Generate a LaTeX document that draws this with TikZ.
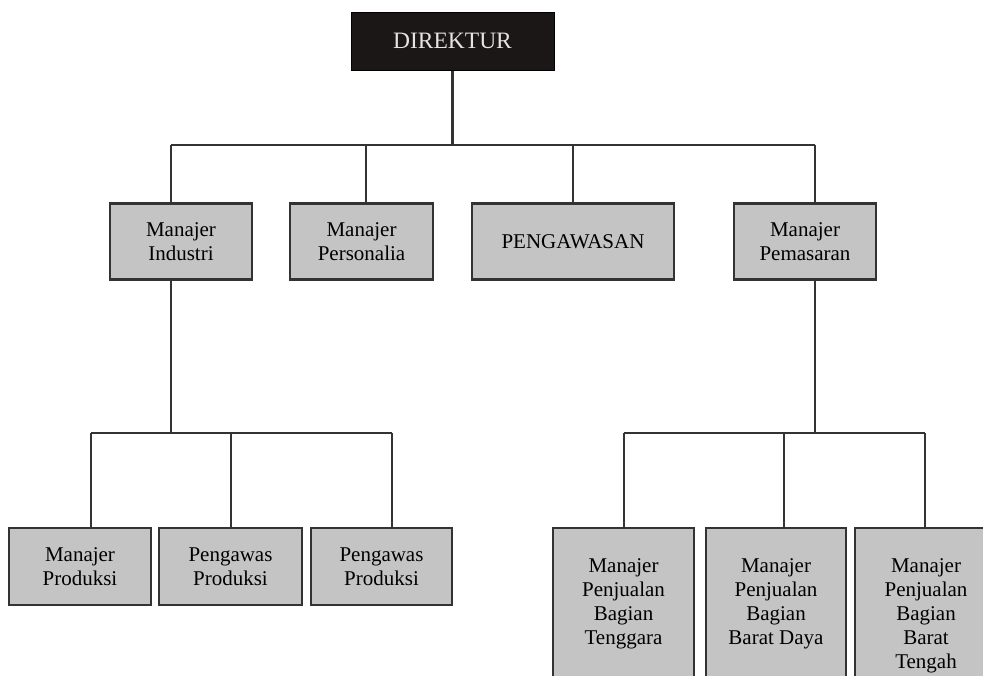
\documentclass[tikz,border=0pt]{standalone}
\usepackage{fontspec}
\setmainfont{Liberation Serif}
\begin{document}
\begin{tikzpicture}[x=1pt,y=-1pt,
  wire/.style={line width=2.2pt,draw=black!80},
  unit/.style={rectangle,draw=black!80,line width=2.4pt,fill=boxgray,
    inner sep=0pt,align=center,font=\fontsize{21}{24.5}\selectfont},
  head/.style={rectangle,draw=black,line width=1pt,fill=headfill,
    inner sep=0pt,text=headtext,font=\fontsize{23.5}{26}\selectfont},
  caption/.style={inner sep=0pt,align=center,anchor=north,
    font=\fontsize{21}{24}\selectfont}]
\definecolor{boxgray}{HTML}{C4C4C4}
\definecolor{headfill}{HTML}{1C1717}
\definecolor{headtext}{HTML}{E4E4E4}
\useasboundingbox (0,0) rectangle (983,675);
\clip (0,0) rectangle (983,675);

% junction points of the connector rails
\coordinate (r0) at (452.5,145);
\coordinate (r1) at (171,145);
\coordinate (r2) at (366,145);
\coordinate (r3) at (573,145);
\coordinate (r4) at (815,145);
\coordinate (p0) at (171,433);
\coordinate (p1) at (91,433);
\coordinate (p2) at (231,433);
\coordinate (p3) at (392,433);
\coordinate (s0) at (815,433);
\coordinate (s1) at (624,433);
\coordinate (s2) at (784,433);
\coordinate (s3) at (925,433);

% top level
\node[head,minimum width=203pt,minimum height=58pt] (dir) at (452.5,41) {DIREKTUR};

% second level
\node[unit,minimum width=142pt,minimum height=76pt] (ind) at (181,241.5) {Manajer\\Industri};
\node[unit,minimum width=143pt,minimum height=76pt] (per) at (361.5,241.5) {Manajer\\Personalia};
\node[unit,minimum width=202pt,minimum height=76pt] (pgw) at (573,241.5) {PENGAWASAN};
\node[unit,minimum width=142pt,minimum height=76pt] (pem) at (805,241.5) {Manajer\\Pemasaran};

% production branch
\node[unit,minimum width=142pt,minimum height=77pt] (prA) at (80,566.5) {Manajer\\Produksi};
\node[unit,minimum width=143pt,minimum height=77pt] (prB) at (230.5,566.5) {Pengawas\\Produksi};
\node[unit,minimum width=141pt,minimum height=77pt] (prC) at (381.5,566.5) {Pengawas\\Produksi};

% sales branch (tall boxes, text set from the top)
\node[unit,minimum width=141pt,minimum height=192pt] (slA) at (623.5,624) {};
\node[unit,minimum width=140pt,minimum height=192pt] (slB) at (776,624) {};
\node[unit,minimum width=142pt,minimum height=192pt] (slC) at (926,624) {};
\node[caption] (tA) at (623.5,558) {Manajer\\Penjualan\\Bagian\\Tenggara};
\node[caption] (tB) at (776,558) {Manajer\\Penjualan\\Bagian\\Barat Daya};
\node[caption] (tC) at (926,558) {Manajer\\Penjualan\\Bagian\\Barat\\Tengah};

% connectors
\draw[wire] (dir.south) -- (r0);
\draw[wire] (r1) -- (r4);
\draw[wire] (r1) -- (r1 |- ind.north);
\draw[wire] (r2) -- (r2 |- per.north);
\draw[wire] (r3) -- (r3 |- pgw.north);
\draw[wire] (r4) -- (r4 |- pem.north);

\draw[wire] (p0 |- ind.south) -- (p0);
\draw[wire] (p1) -- (p3);
\draw[wire] (p1) -- (p1 |- prA.north);
\draw[wire] (p2) -- (p2 |- prB.north);
\draw[wire] (p3) -- (p3 |- prC.north);

\draw[wire] (s0 |- pem.south) -- (s0);
\draw[wire] (s1) -- (s3);
\draw[wire] (s1) -- (s1 |- slA.north);
\draw[wire] (s2) -- (s2 |- slB.north);
\draw[wire] (s3) -- (s3 |- slC.north);
\end{tikzpicture}
\end{document}
